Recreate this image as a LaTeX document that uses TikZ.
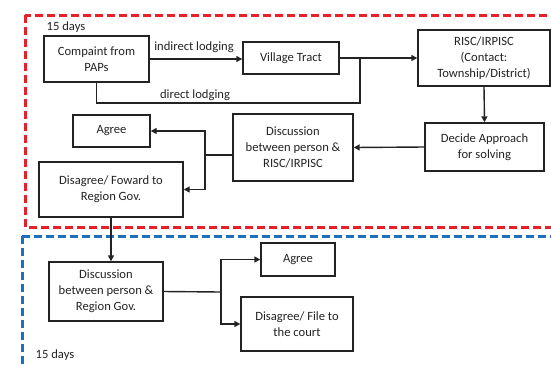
\documentclass[tikz,border=0pt]{standalone}
\usepackage{fontspec}
\setmainfont{Carlito}
\usetikzlibrary{arrows.meta}
\definecolor{zonered}{RGB}{232,32,42}
\definecolor{zoneblue}{RGB}{30,112,190}
\definecolor{ink}{RGB}{35,35,35}
\begin{document}
\begin{tikzpicture}[x=1pt,y=-1pt,
  box/.style={draw=ink,line width=1.4pt,align=center,inner sep=1pt,
    font=\fontsize{12.6}{16}\selectfont,text=ink},
  link/.style={draw=ink,line width=1.4pt},
  flow/.style={link,-{Triangle[length=6pt,width=6pt]}},
  lbl/.style={font=\fontsize{12.6}{15}\selectfont,text=ink,inner sep=0pt},
  zone/.style={line width=3pt,dash pattern=on 8pt off 4pt}]
\useasboundingbox (0,0) rectangle (551,365);
\begin{scope}
\clip (0,0) rectangle (551,365);
% the two time-limited stages
\draw[zone,draw=zonered] (25,15) rectangle (560,227);
\draw[zone,draw=zoneblue] (22,236) rectangle (560,380);
\end{scope}

% first stage
\node[box,minimum width=105pt,minimum height=46pt] (comp) at (96.5,59) {Compaint from\\PAPs};
\node[box,minimum width=96pt,minimum height=32pt] (village) at (291,58) {Village Tract};
\node[box,minimum width=132pt,minimum height=56pt] (risc) at (484,58) {RISC/IRPISC\\(Contact:\\Township/District)};
\node[box,minimum width=119pt,minimum height=48pt] (decide) at (484.5,147) {Decide Approach\\for solving};
\node[box,minimum width=120pt,minimum height=67pt] (disc1) at (293,147.5) {Discussion\\between person \&\\RISC/IRPISC};
\node[box,minimum width=77pt,minimum height=32pt] (agree1) at (111.5,131) {Agree};
\node[box,minimum width=144pt,minimum height=55pt] (dis1) at (111,189.5) {Disagree/ Foward to\\Region Gov.};

% second stage
\node[box,minimum width=114pt,minimum height=59pt] (disc2) at (106,291.5) {Discussion\\between person \&\\Region Gov.};
\node[box,minimum width=74pt,minimum height=33pt] (agree2) at (298,259.5) {Agree};
\node[box,minimum width=112pt,minimum height=54pt] (dis2) at (297,324) {Disagree/ File to\\the court};

% labels
\node[lbl] (days1) at (66,27) {15 days};
\node[lbl] (days2) at (55,355) {15 days};
\node[lbl] (indirect) at (194,47) {indirect lodging};
\node[lbl] (direct) at (195,95) {direct lodging};

% junction points
\coordinate (jn) at (360,103);
\coordinate (s1) at (205,155);
\coordinate (s2) at (221,292);

% connectors
\draw[flow] (comp.east) -- (comp.east -| village.west);
\draw[link] (comp.south) |- (jn) -- (jn |- village.east);
\draw[flow] (village.east) -- (risc.west);
\draw[flow] (risc.south) -- (decide.north);
\draw[flow] (decide.west) -- (disc1.east);
\draw[link] (s1 -| disc1.west) -- (s1);
\draw[flow] (s1) |- (agree1.east);
\draw[flow] (s1) |- (dis1.east);
\draw[flow] (dis1.south) -- (dis1.south |- disc2.north);
\draw[link] (disc2.east) -- (s2);
\draw[flow] (s2) |- (agree2.west);
\draw[flow] (s2) |- (dis2.west);
\end{tikzpicture}
\end{document}
